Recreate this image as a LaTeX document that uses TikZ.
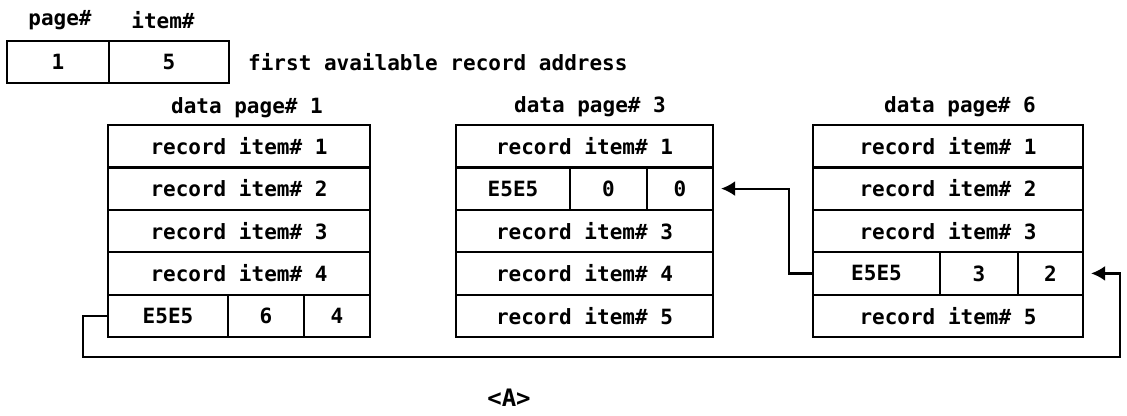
\documentclass[tikz,border=0pt]{standalone}
\usepackage{fontspec}
\setmonofont{DejaVu Sans Mono}
\usetikzlibrary{arrows.meta}
\begin{document}
\begin{tikzpicture}[x=1pt,y=-1pt,
  txt/.style={inner sep=0pt, font=\ttfamily\bfseries\fontsize{21}{24}\selectfont},
  cell/.style={txt, draw, line width=2.2pt, minimum height=42.4pt},
  link/.style={line width=2.2pt, -{Latex[length=14pt,width=15pt]}, shorten >=7pt}]
\useasboundingbox[fill=white] (0,0) rectangle (1127,415);
% header
\node[txt] (hp) at (60,20) {page\#};
\node[txt] (hi) at (163,20) {item\#};
\node[cell, minimum width=102pt] (fa1) at (58,62) {1};
\node[cell, minimum width=120pt] (fa2) at (169,62) {5};
\node[txt, anchor=west] (fat) at (248,62) {first available record address};
% data page 1
\node[txt] (t1) at (247,108) {data page\# 1};
\node[cell, minimum width=262pt] (a1) at (239,146.2) {record item\# 1};
\node[cell, minimum width=262pt] (a2) at (239,188.6) {record item\# 2};
\node[cell, minimum width=262pt] (a3) at (239,231) {record item\# 3};
\node[cell, minimum width=262pt] (a4) at (239,273.4) {record item\# 4};
\node[cell, minimum width=120pt] (a5m) at (168,315.8) {E5E5};
\node[cell, minimum width=76pt] (a5p) at (266,315.8) {6};
\node[cell, minimum width=66pt] (a5i) at (337,315.8) {4};
% data page 3
\node[txt] (t3) at (590,107) {data page\# 3};
\node[cell, minimum width=257pt] (b1) at (584.5,146.2) {record item\# 1};
\node[cell, minimum width=114pt] (b2m) at (513,188.6) {E5E5};
\node[cell, minimum width=77pt] (b2p) at (608.5,188.6) {0};
\node[cell, minimum width=66pt] (b2i) at (680,188.6) {0};
\node[cell, minimum width=257pt] (b3) at (584.5,231) {record item\# 3};
\node[cell, minimum width=257pt] (b4) at (584.5,273.4) {record item\# 4};
\node[cell, minimum width=257pt] (b5) at (584.5,315.8) {record item\# 5};
% data page 6
\node[txt] (t6) at (960,107) {data page\# 6};
\node[cell, minimum width=270pt] (c1) at (948,146.2) {record item\# 1};
\node[cell, minimum width=270pt] (c2) at (948,188.6) {record item\# 2};
\node[cell, minimum width=270pt] (c3) at (948,231) {record item\# 3};
\node[cell, minimum width=127pt] (c4m) at (876.5,273.4) {E5E5};
\node[cell, minimum width=78pt] (c4p) at (979,273.4) {3};
\node[cell, minimum width=65pt] (c4i) at (1050.5,273.4) {2};
\node[cell, minimum width=270pt] (c5) at (948,315.8) {record item\# 5};
% links
\coordinate (l1a) at (83,315.8);
\coordinate (l1b) at (83,357);
\coordinate (l1c) at (1120,357);
\coordinate (l1d) at (1120,273.4);
\draw[link] (a5m.west) -- (l1a) -- (l1b) -- (l1c) -- (l1d) -- (c4i.east);
\coordinate (l2a) at (789,273.4);
\coordinate (l2b) at (789,188.6);
\draw[link] (c4m.west) -- (l2a) -- (l2b) -- (b2i.east);
% caption
\node[txt, font=\ttfamily\bfseries\fontsize{24}{26}\selectfont] (cap) at (509,398) {<A>};
\end{tikzpicture}
\end{document}
